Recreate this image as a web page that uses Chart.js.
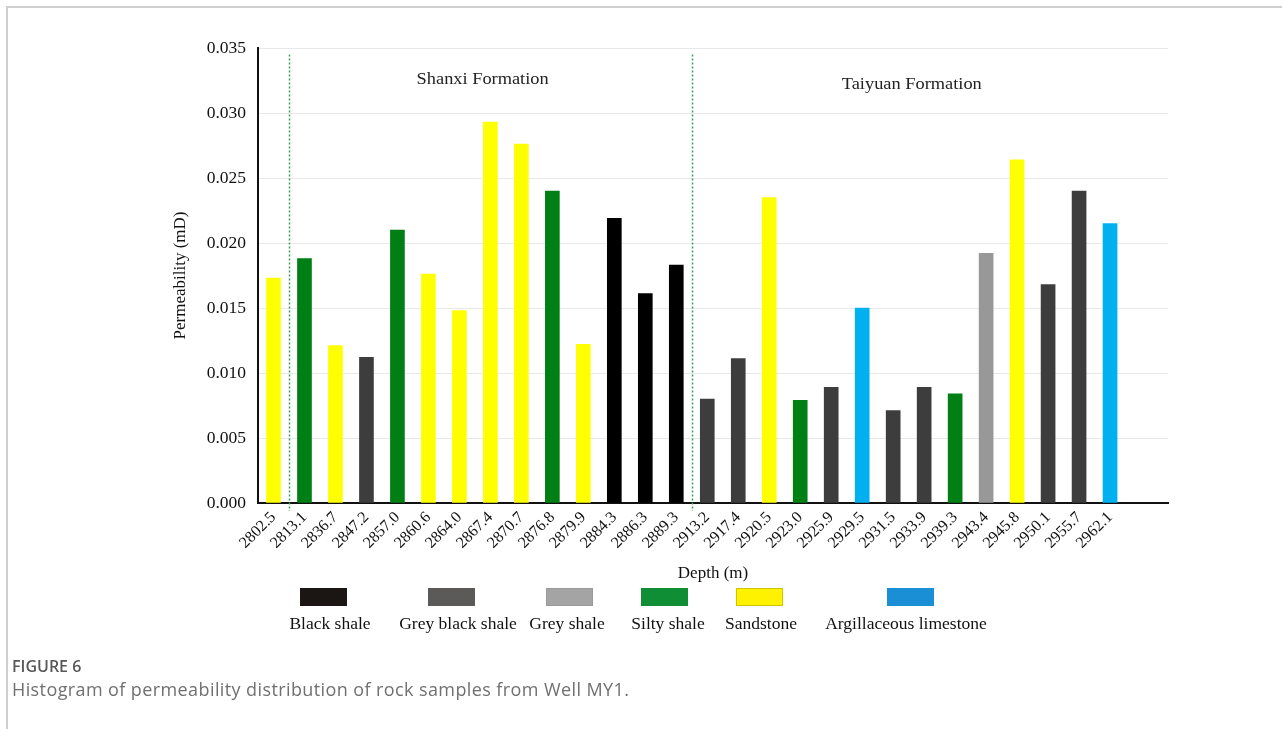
<!DOCTYPE html>
<html>
<head>
<meta charset="utf-8">
<script src="https://cdn.jsdelivr.net/npm/chart.js@4.4.1/dist/chart.umd.min.js"></script>
<style>
  html, body { margin: 0; padding: 0; background: #fff; }
  body { width: 1282px; height: 729px; position: relative; overflow: hidden; }
  #frameTop { position: absolute; left: 6px; top: 6px; width: 1276px; height: 0; border-top: 2px solid #cfcfcf; }
  #frameLeft { position: absolute; left: 6px; top: 6px; width: 0; height: 723px; border-left: 2px solid #cfcfcf; }
  #wrap { position: absolute; left: 0; top: 0; width: 1282px; height: 729px; }
  .sw { position: absolute; top: 588px; width: 47px; height: 18px; box-sizing: border-box; }
  .lg { position: absolute; top: 614px; font-family: "Liberation Serif", "Times New Roman", serif; font-size: 17px; color: #111; white-space: nowrap; transform: translateX(-50%) scaleX(1.03); }
  #figNum { position: absolute; left: 12px; top: 655px; font-family: "Open Sans", "Noto Sans", sans-serif; font-size: 16px; font-weight: 600; color: #585858; }
  #figText { position: absolute; left: 12px; top: 677px; font-family: "Open Sans", "Noto Sans", sans-serif; font-size: 18px; letter-spacing: 0.4px; color: #707070; }
</style>
</head>
<body>
<div id="frameTop"></div>
<div id="frameLeft"></div>
<div id="wrap"><canvas id="c" width="1282" height="729"></canvas></div>
<div id="legend"></div>
<div id="figNum">FIGURE 6</div>
<div id="figText">Histogram of permeability distribution of rock samples from Well MY1.</div>
<script>
// Sample depths (m)
const depths = ["2802.5","2813.1","2836.7","2847.2","2857.0","2860.6","2864.0","2867.4","2870.7","2876.8",
  "2879.9","2884.3","2886.3","2889.3","2913.2","2917.4","2920.5","2923.0","2925.9","2929.5",
  "2931.5","2933.9","2939.3","2943.4","2945.8","2950.1","2955.7","2962.1"];

// Permeability (mD)
const permeability = [0.0173,0.0188,0.0121,0.0112,0.0210,0.0176,0.0148,0.0293,0.0276,0.0240,
  0.0122,0.0219,0.0161,0.0183,0.0080,0.0111,0.0235,0.0079,0.0089,0.0150,
  0.0071,0.0089,0.0084,0.0192,0.0264,0.0168,0.0240,0.0215];

// Lithology of each sample
const lithology = ["Sandstone","Silty shale","Sandstone","Grey black shale","Silty shale","Sandstone","Sandstone","Sandstone","Sandstone","Silty shale",
  "Sandstone","Black shale","Black shale","Black shale","Grey black shale","Grey black shale","Sandstone","Silty shale","Grey black shale","Argillaceous limestone",
  "Grey black shale","Grey black shale","Silty shale","Grey shale","Sandstone","Grey black shale","Grey black shale","Argillaceous limestone"];

// Y-axis ticks
const yTicks = [0, 0.005, 0.010, 0.015, 0.020, 0.025, 0.030, 0.035];

// Lithology classes in legend order
const lithClasses = ["Black shale","Grey black shale","Grey shale","Silty shale","Sandstone","Argillaceous limestone"];

// Formation boundaries: after these sample indices
const boundaries = [0, 13];
const formations = ["Shanxi Formation", "Taiyuan Formation"];

// Styles
const barColors = {
  "Black shale": "#000000",
  "Grey black shale": "#3d3d3d",
  "Grey shale": "#999898",
  "Silty shale": "#007f14",
  "Sandstone": "#ffff00",
  "Argillaceous limestone": "#00b0f0"
};
const swatchStyle = {
  "Black shale": { bg: "#1b1513", bd: "#1b1513" },
  "Grey black shale": { bg: "#5c5959", bd: "#5c5959" },
  "Grey shale": { bg: "#a4a4a4", bd: "#9a9a9a" },
  "Silty shale": { bg: "#0f8e35", bd: "#0f8e35" },
  "Sandstone": { bg: "#fff200", bd: "#cfc400" },
  "Argillaceous limestone": { bg: "#1b8fd6", bd: "#1b8fd6" }
};
const swatchX = [300, 428, 546, 641, 736, 887];
const labelX = [330, 458, 567, 668, 761, 906];

// HTML legend
const legend = document.getElementById("legend");
lithClasses.forEach((name, i) => {
  const s = document.createElement("div");
  s.className = "sw";
  s.style.left = swatchX[i] + "px";
  s.style.background = swatchStyle[name].bg;
  s.style.border = "1px solid " + swatchStyle[name].bd;
  legend.appendChild(s);
  const t = document.createElement("div");
  t.className = "lg";
  t.style.left = labelX[i] + "px";
  t.textContent = name;
  legend.appendChild(t);
});

const serif = "'Liberation Serif', 'Times New Roman', serif";

// Dotted formation boundaries and formation names
const formationPlugin = {
  id: "formations",
  afterDatasetsDraw(chart) {
    const { ctx, scales: { x, y } } = chart;
    ctx.save();
    ctx.strokeStyle = "#3aa060";
    ctx.lineWidth = 1.5;
    ctx.setLineDash([2, 2]);
    boundaries.forEach(b => {
      const px = Math.round(x.getPixelForValue(b + 0.5)) + 0.5;
      ctx.beginPath();
      ctx.moveTo(px, y.getPixelForValue(0.0345));
      ctx.lineTo(px, y.getPixelForValue(0) + 8);
      ctx.stroke();
    });
    ctx.setLineDash([]);
    ctx.fillStyle = "#222";
    ctx.font = "17px " + serif;
    ctx.textAlign = "center";
    ctx.textBaseline = "middle";
    [[formations[0], 6.75, 0.0326], [formations[1], 20.6, 0.0322]].forEach(([t, xv, yv]) => {
      ctx.save();
      ctx.translate(x.getPixelForValue(xv), y.getPixelForValue(yv));
      ctx.scale(1.08, 1);
      ctx.fillText(t, 0, 0);
      ctx.restore();
    });
    ctx.restore();
  }
};

new Chart(document.getElementById("c"), {
  type: "bar",
  data: {
    datasets: [{
      data: permeability.map((v, i) => ({ x: i, y: v })),
      backgroundColor: lithology.map(l => barColors[l]),
      barThickness: 14,
      borderWidth: 0
    }]
  },
  options: {
    responsive: false,
    animation: false,
    events: [],
    layout: { padding: { left: 158, right: 114, top: 48, bottom: 136 } },
    plugins: { legend: { display: false }, tooltip: { enabled: false } },
    scales: {
      x: {
        type: "linear",
        min: -0.5,
        max: 28.87,
        offset: false,
        grid: { display: false, drawTicks: false },
        border: { display: true, color: "#111", width: 2 },
        afterBuildTicks: s => { s.ticks = depths.map((d, i) => ({ value: i })); },
        afterFit: s => { s.height = 90; },
        ticks: {
          autoSkip: false,
          minRotation: 45,
          maxRotation: 45,
          padding: 5,
          color: "#111",
          font: { family: serif, size: 16 },
          callback: v => depths[v] ?? ""
        },
        title: {
          display: true,
          text: "Depth (m)",
          color: "#111",
          font: { family: serif, size: 17 },
          padding: { top: 4, bottom: 9 }
        }
      },
      y: {
        min: 0,
        max: 0.035,
        afterBuildTicks: s => { s.ticks = yTicks.map(v => ({ value: v })); },
        afterFit: s => { s.width = 100; },
        grid: { color: "#e8e8e8", lineWidth: 1, drawTicks: false },
        border: { display: true, color: "#111", width: 2 },
        ticks: {
          padding: 12,
          color: "#111",
          font: { family: serif, size: 17.5 },
          callback: v => v.toFixed(3)
        },
        title: {
          display: true,
          text: "Permeability (mD)",
          color: "#111",
          font: { family: serif, size: 17 },
          padding: { top: 12, bottom: 0 }
        }
      }
    }
  },
  plugins: [formationPlugin]
});
</script>
</body>
</html>
